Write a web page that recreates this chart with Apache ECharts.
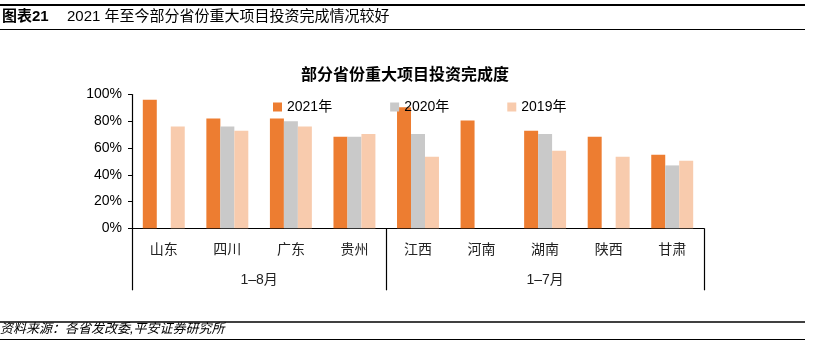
<!DOCTYPE html>
<html><head><meta charset="utf-8">
<script src="https://cdn.jsdelivr.net/npm/echarts@6/dist/echarts.min.js"></script>
<style>html,body{margin:0;padding:0;background:#fff}#c{width:818px;height:355px}</style>
</head><body><div id="c"></div>
<script>
var categories = ['山东','四川','广东','贵州','江西','河南','湖南','陕西','甘肃'];
var groupLabels = ['1–8月','1–7月'];
var groupSizes = [4, 5];
var s2021 = [96, 82, 82, 68.5, 90.5, 80.5, 73, 68.5, 55];
var s2020 = [null, 76, 80, 68.5, 70.5, null, 70.5, null, 47];
var s2019 = [76, 73, 76, 70.5, 53.5, null, 58, 53.5, 50.5];
var seriesNames = ['2021年','2020年','2019年'];
var yTicks = [0, 20, 40, 60, 80, 100];

var FONT = '"Liberation Sans","Noto Sans CJK SC",sans-serif';
var bounds = [0], mids = [];
groupSizes.forEach(function(n){ var a = bounds[bounds.length-1]; mids.push(a + n/2); bounds.push(a + n); });

var chart = echarts.init(document.getElementById('c'));
chart.setOption({
  animation: false,
  title: {
    text: '部分省份重大项目投资完成度', left: 400, top: 63, textAlign: 'center',
    textStyle: {fontSize: 16, fontWeight: 'bold', color: '#000', fontFamily: FONT}
  },
  legend: {
    left: 268, top: 95, itemWidth: 9, itemHeight: 9, itemGap: 58, icon: 'rect',
    textStyle: {fontSize: 14, color: '#000', fontFamily: FONT},
    data: seriesNames
  },
  grid: {left: 132, right: 114, top: 94.5, bottom: 126.7, containLabel: false},
  xAxis: [{
    type: 'category', data: categories, boundaryGap: true,
    axisLine: {lineStyle: {color: '#000', width: 1.2}},
    axisTick: {length: 32, interval: 0, lineStyle: {color: '#000', width: 1.2}},
    axisLabel: {interval: 0, margin: 15, fontSize: 14, color: '#222', fontFamily: FONT}
  }, {
    type: 'value', min: 0, max: categories.length, position: 'bottom',
    axisLine: {show: false}, splitLine: {show: false},
    axisTick: {show: true, customValues: bounds, length: 62, lineStyle: {color: '#000', width: 1.2}},
    axisLabel: {customValues: mids, margin: 45, fontSize: 14, color: '#222', fontFamily: FONT,
      formatter: function(v){ var i = mids.indexOf(v); return i >= 0 ? groupLabels[i] : ''; }}
  }],
  yAxis: {
    type: 'value', min: 0, max: 100, interval: 20,
    axisLine: {show: true, lineStyle: {color: '#000', width: 1.2}},
    axisTick: {show: true, length: 4, lineStyle: {color: '#000'}},
    splitLine: {show: false},
    axisLabel: {formatter: '{value}%', margin: 10, fontSize: 14, color: '#000', fontFamily: FONT}
  },
  series: [
    {name: seriesNames[0], type: 'bar', data: s2021, barGap: '0%', barCategoryGap: '34%', itemStyle: {color: '#ED7D31'}},
    {name: seriesNames[1], type: 'bar', data: s2020, itemStyle: {color: '#C9C9C9'}},
    {name: seriesNames[2], type: 'bar', data: s2019, itemStyle: {color: '#F8CBAD'}}
  ],
  graphic: [
    {type: 'line', shape: {x1: 0, y1: 5, x2: 805, y2: 5}, style: {stroke: '#000', lineWidth: 2}},
    {type: 'text', left: 2, top: 9, style: {text: '图表21', font: 'bold 15px ' + FONT, fill: '#000'}},
    {type: 'text', left: 67, top: 9, style: {text: '2021 年至今部分省份重大项目投资完成情况较好', font: '15px ' + FONT, fill: '#000'}},
    {type: 'line', shape: {x1: 0, y1: 29.5, x2: 805, y2: 29.5}, style: {stroke: '#000', lineWidth: 1.2}},
    {type: 'line', shape: {x1: 0, y1: 322, x2: 805, y2: 322}, style: {stroke: '#000', lineWidth: 1.5}},
    {type: 'text', left: 0, top: 323, style: {text: '资料来源：各省发改委,平安证券研究所', font: 'italic 13px ' + FONT, fill: '#000'}},
    {type: 'line', shape: {x1: 0, y1: 339.5, x2: 805, y2: 339.5}, style: {stroke: '#000', lineWidth: 1.2}}
  ]
});
</script></body></html>
